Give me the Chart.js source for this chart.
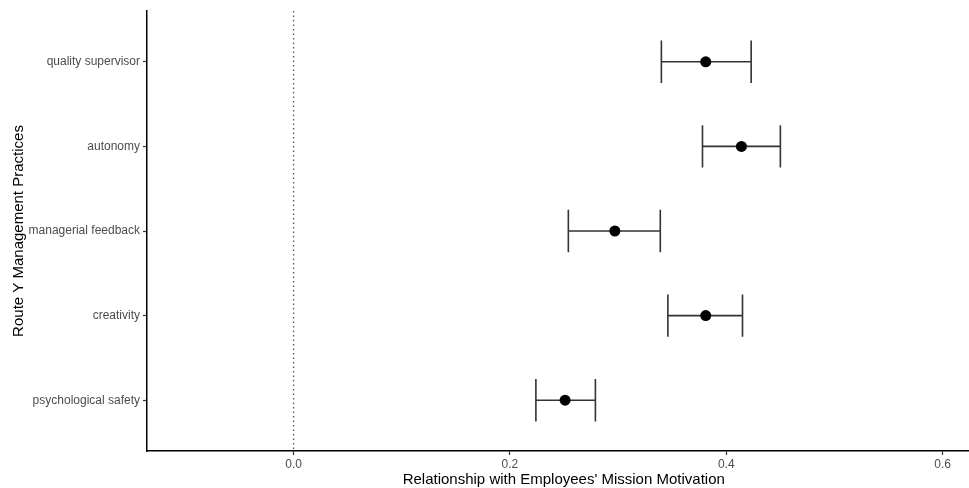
<!DOCTYPE html>
<html>
<head>
<meta charset="utf-8">
<script src="https://cdn.jsdelivr.net/npm/chart.js@4/dist/chart.umd.min.js"></script>
<style>
  html, body { margin: 0; padding: 0; background: #fff; overflow: hidden; }
  #wrap { width: 986px; height: 488px; }
</style>
</head>
<body>
<div id="wrap"><canvas id="effectChart"></canvas></div>
<script>
const practices = ['quality supervisor', 'autonomy', 'managerial feedback', 'creativity', 'psychological safety'];
const estimates = [0.381, 0.414, 0.297, 0.381, 0.251];
const lowerCI = [0.340, 0.378, 0.254, 0.346, 0.224];
const upperCI = [0.423, 0.450, 0.339, 0.415, 0.279];
const xTicks = [0.0, 0.2, 0.4, 0.6];

const points = estimates.map((v, i) => ({ x: v, y: i + 1 }));

// draws the zero reference line and the CI whiskers
const errorBars = {
    id: 'errorBars',
    beforeDatasetsDraw(chart) {
        const { ctx, chartArea, scales: { x, y } } = chart;
        ctx.save();
        const zx = x.getPixelForValue(0);
        ctx.strokeStyle = '#555';
        ctx.lineWidth = 1.3;
        ctx.setLineDash([1.5, 3]);
        ctx.beginPath();
        ctx.moveTo(zx, chartArea.top);
        ctx.lineTo(zx, chartArea.bottom);
        ctx.stroke();
        ctx.setLineDash([]);

        ctx.strokeStyle = '#333';
        ctx.lineWidth = 1.6;
        const half = y.getPixelForValue(1.25) - y.getPixelForValue(1);
        for (let i = 0; i < practices.length; i++) {
            const py = y.getPixelForValue(i + 1);
            const x1 = x.getPixelForValue(lowerCI[i]);
            const x2 = x.getPixelForValue(upperCI[i]);
            ctx.beginPath();
            ctx.moveTo(x1, py);
            ctx.lineTo(x2, py);
            ctx.moveTo(x1, py - half);
            ctx.lineTo(x1, py + half);
            ctx.moveTo(x2, py - half);
            ctx.lineTo(x2, py + half);
            ctx.stroke();
        }
        ctx.restore();
    }
};

const ctx = document.getElementById('effectChart').getContext('2d');
const chart = new Chart(ctx, {
    type: 'scatter',
    data: {
        datasets: [{
            data: points,
            pointRadius: 5.5,
            pointBackgroundColor: '#000',
            pointBorderColor: '#000',
            pointBorderWidth: 0
        }]
    },
    options: {
        responsive: true,
        maintainAspectRatio: false,
        animation: false,
        layout: { padding: { top: 11, right: 0, left: 0, bottom: 0 } },
        plugins: {
            legend: { display: false },
            tooltip: { enabled: false }
        },
        scales: {
            x: {
                type: 'linear',
                min: -0.1355,
                max: 0.635,
                afterBuildTicks: (scale) => {
                    scale.ticks = xTicks.map(v => ({ value: v }));
                },
                afterFit: (scale) => { scale.height = 37; },
                ticks: {
                    color: '#4d4d4d',
                    font: { family: 'Liberation Sans', size: 12 },
                    padding: 2,
                    maxRotation: 0,
                    callback: (v) => v.toFixed(1)
                },
                grid: { drawOnChartArea: false, drawTicks: true, tickLength: 4, color: '#333', tickWidth: 1.2 },
                border: { display: true, color: '#000', width: 1.5 },
                title: {
                    display: true,
                    text: "Relationship with Employees' Mission Motivation",
                    color: '#000',
                    font: { family: 'Liberation Sans', size: 15 },
                    padding: { top: 0, bottom: -1 }
                }
            },
            y: {
                type: 'linear',
                reverse: true,
                min: 0.4,
                max: 5.6,
                afterBuildTicks: (scale) => {
                    scale.ticks = practices.map((p, i) => ({ value: i + 1 }));
                },
                afterFit: (scale) => { scale.width = 147; },
                ticks: {
                    color: '#4d4d4d',
                    font: { family: 'Liberation Sans', size: 12 },
                    padding: 3,
                    callback: (v) => practices[v - 1]
                },
                grid: { drawOnChartArea: false, drawTicks: true, tickLength: 4, color: '#333', tickWidth: 1.2 },
                border: { display: true, color: '#000', width: 1.5 },
                title: {
                    display: true,
                    text: 'Route Y Management Practices',
                    color: '#000',
                    font: { family: 'Liberation Sans', size: 15 },
                    padding: { top: 10, bottom: 0 }
                }
            }
        }
    },
    plugins: [errorBars]
});
</script>
</body>
</html>
